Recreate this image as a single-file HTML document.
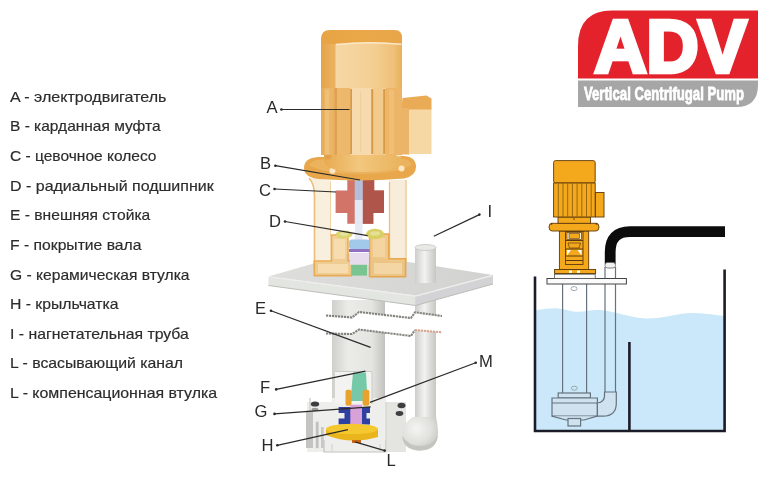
<!DOCTYPE html>
<html><head><meta charset="utf-8">
<style>
html,body{margin:0;padding:0;background:#fff;width:770px;height:500px;overflow:hidden}
svg{display:block;position:absolute;left:0;top:0;will-change:transform}
.t{font-family:"Liberation Sans",sans-serif;font-size:14.8px;fill:#2c2c2c;stroke:#2c2c2c;stroke-width:0.18px}
.lb{font-family:"Liberation Sans",sans-serif;font-size:16.6px;fill:#2a2a2a}
</style></head><body>
<svg width="770" height="500" viewBox="0 0 770 500">
<!-- legend -->
<g class="t">
<text x="10" y="102" textLength="156.5" lengthAdjust="spacingAndGlyphs">A - электродвигатель</text>
<text x="10" y="131" textLength="150.5" lengthAdjust="spacingAndGlyphs">B - карданная муфта</text>
<text x="10" y="161" textLength="146.5" lengthAdjust="spacingAndGlyphs">C - цевочное колесо</text>
<text x="10" y="190.6" textLength="203.7" lengthAdjust="spacingAndGlyphs">D - радиальный подшипник</text>
<text x="10" y="220.3" textLength="140.3" lengthAdjust="spacingAndGlyphs">E - внешняя стойка</text>
<text x="10" y="250" textLength="131.5" lengthAdjust="spacingAndGlyphs">F - покрытие вала</text>
<text x="10" y="279.7" textLength="179.5" lengthAdjust="spacingAndGlyphs">G - керамическая втулка</text>
<text x="10" y="309.3" textLength="108.5" lengthAdjust="spacingAndGlyphs">H - крыльчатка</text>
<text x="10" y="338.9" textLength="178.8" lengthAdjust="spacingAndGlyphs">I - нагнетательная труба</text>
<text x="10" y="368.2" textLength="173.0" lengthAdjust="spacingAndGlyphs">L - всасывающий канал</text>
<text x="10" y="397.7" textLength="207.1" lengthAdjust="spacingAndGlyphs">L - компенсационная втулка</text>
</g>

<!-- logo -->
<g id="logo">
<path d="M578,46 Q578,10.5 612,10.5 L758,10.5 L758,78.5 L578,78.5 Z" fill="#E3222B"/>
<path d="M578,80.5 L758,80.5 L758,85 Q758,107 736,107 L578,107 Z" fill="#A6A6A6"/>
<text x="594.5" y="71.5" font-family="Liberation Sans" font-weight="bold" font-size="75" fill="#fff" stroke="#fff" stroke-width="4.5" stroke-linejoin="miter" textLength="152" lengthAdjust="spacingAndGlyphs">ADV</text>
<text x="584" y="99.8" font-family="Liberation Sans" font-weight="bold" font-size="18.8" fill="#fff" stroke="#fff" stroke-width="0.8" textLength="160" lengthAdjust="spacingAndGlyphs">Vertical Centrifugal Pump</text>
</g>

<!-- main pump -->
<g id="pump" filter="url(#soft)">
<defs>
<filter id="soft" x="-5%" y="-5%" width="110%" height="110%"><feGaussianBlur stdDeviation="0.35"/></filter>
<linearGradient id="col" x1="0" x2="1" y1="0" y2="0">
<stop offset="0" stop-color="#cfcfcb"/><stop offset="0.3" stop-color="#ebebe8"/><stop offset="0.75" stop-color="#e4e4e0"/><stop offset="1" stop-color="#c2c2be"/>
</linearGradient>
<linearGradient id="pipe" x1="0" x2="1" y1="0" y2="0">
<stop offset="0" stop-color="#cdcdc9"/><stop offset="0.45" stop-color="#f2f2f0"/><stop offset="1" stop-color="#c6c6c2"/>
</linearGradient>
<radialGradient id="elb" cx="0.4" cy="0.35" r="0.7">
<stop offset="0" stop-color="#f4f4f2"/><stop offset="0.6" stop-color="#e0e0dc"/><stop offset="1" stop-color="#c4c4c0"/>
</radialGradient>
<linearGradient id="plateTop" x1="0" x2="1" y1="0" y2="0">
<stop offset="0" stop-color="#dededc"/><stop offset="1" stop-color="#d2d2d0"/>
</linearGradient>
<linearGradient id="capFront" x1="0" x2="1" y1="0" y2="0">
<stop offset="0" stop-color="#f6d8a6"/><stop offset="0.55" stop-color="#f4cf94"/><stop offset="0.88" stop-color="#efc078"/><stop offset="1" stop-color="#e9b058"/>
</linearGradient>
<linearGradient id="capSide" x1="0" x2="1" y1="0" y2="0">
<stop offset="0" stop-color="#e4a448"/><stop offset="1" stop-color="#ecb466"/>
</linearGradient>
<linearGradient id="finL" x1="0" x2="1" y1="0" y2="0">
<stop offset="0" stop-color="#e6aa58"/><stop offset="0.5" stop-color="#edb86c"/><stop offset="1" stop-color="#e9b062"/>
</linearGradient>
<linearGradient id="neck" x1="0" x2="1" y1="0" y2="0">
<stop offset="0" stop-color="#e8aa50"/><stop offset="0.45" stop-color="#f2c77e"/><stop offset="1" stop-color="#eab45e"/>
</linearGradient>
<linearGradient id="capTop" x1="0" x2="1" y1="0" y2="0">
<stop offset="0" stop-color="#e6a444"/><stop offset="0.5" stop-color="#eaa848"/><stop offset="1" stop-color="#e8a64a"/>
</linearGradient>
</defs>

<!-- discharge pipe below plate -->
<rect x="415" y="280" width="21" height="145" fill="url(#pipe)"/>

<!-- column lower -->
<rect x="332" y="300" width="53" height="102" fill="url(#col)"/>

<!-- break band -->
<path d="M326,315.5 L352,317.5 L359,312 L411,318 L415,312.3 L442,316 L442,332.3 L415,330 L411,336 L359,329.5 L352,334 L326,333.5 Z" fill="#fff"/>
<g fill="none" stroke-width="2.1" stroke-dasharray="2.2 0.8">
<path d="M326,315.5 L352,317.5 L359,312 L411,318 L415,312.3 L442,316" stroke="#84847f"/>
<path d="M326,333.5 L352,334 L359,329.5 L411,336 L415,330" stroke="#84847f"/>
<path d="M415,330 L442,332.3" stroke="#d9a58e"/>
</g>
<!-- casing -->
<path d="M307,402 L332,402 L332,398 L386,398 L386,402 L406,402 L406,452 L307,452 Z" fill="#eeeeec"/>
<path d="M306,411 L313,411 L313,448 L306,448 Z" fill="#c4c4c0"/>
<path d="M306,411 L313,411" stroke="#d8d8d4" stroke-width="1"/>
<rect x="315.8" y="421.7" width="2.8" height="26.5" fill="#c0c0bc"/>
<rect x="321" y="427" width="2.7" height="21" fill="#c8c8c4"/>
<path d="M310,398 L310,411" stroke="#d0d0cc" stroke-width="1.5"/>
<path d="M324,440 L324,452 L386,452 L386,440" fill="none" stroke="#c4c4c0" stroke-width="1.2"/>
<path d="M332,444 L332,452 M380,444 L380,452" stroke="#cfcfcb" stroke-width="1"/>
<path d="M386,402 L406,402 L406,452 L386,452 Z" fill="#e4e4e0"/>
<path d="M386,402 L386,452" stroke="#d0d0cc" stroke-width="1"/>
<ellipse cx="315" cy="404" rx="4.2" ry="2.6" fill="#3e3e42"/>
<ellipse cx="315" cy="409.5" rx="3.5" ry="1.8" fill="#9a9a98"/>
<ellipse cx="401.5" cy="405.5" rx="4" ry="2.8" fill="#3e3e42"/>
<ellipse cx="399.5" cy="413.5" rx="3.8" ry="2.4" fill="#3e3e42"/>
<!-- cutaway window -->
<rect x="335" y="371.5" width="37" height="32" fill="#f3f3f1"/>
<path d="M335,371.5 L372,371.5 L372,404" fill="none" stroke="#c9c9c5" stroke-width="1"/>
<path d="M353,372.5 L366,372.5 L367.5,401 L350.5,401 Z" fill="#76c9a8"/>
<rect x="345.5" y="389.7" width="6" height="16" rx="2" fill="#eaa22e"/>
<rect x="362.6" y="389.7" width="6.7" height="16" rx="2" fill="#eaa22e"/>
<path d="M338.6,407 L351,407 L351,424.5 L338.6,424.5 L338.6,418.5 L344.5,418.5 L344.5,413 L338.6,413 Z" fill="#2f3fa0"/>
<path d="M362,407 L370,407 L370,413 L366.5,413 L366.5,418.5 L370,418.5 L370,424.5 L362,424.5 Z" fill="#2f3fa0"/>
<rect x="350.3" y="404.8" width="11.7" height="20.5" fill="#d8a2d8"/>
<!-- impeller -->
<path d="M326,429 L326,435 Q350,445 378,437 L378,429 Z" fill="#e9b41a"/>
<ellipse cx="352" cy="429" rx="26" ry="5.2" fill="#f4c82e"/>
<path d="M352,440 L361,440 L361,443 L352,443 Z" fill="#c86818"/>
<!-- elbow -->
<path d="M413,417 L436,417 Q438,424 438,432 Q438,450 420,450.5 Q402,450 402,434 Q402,424 413,417 Z" fill="url(#elb)"/>
<path d="M402,436 Q404,450 420,450.5 Q436,450 438,436 Q432,446 420,446 Q408,446 402,436 Z" fill="#c4c4c0"/>
<!-- base plate -->
<path d="M268.5,276.4 L350,253 L493,275 L415.5,295.6 Z" fill="url(#plateTop)"/>
<path d="M268.5,276.4 L415.5,295.6 L415.5,305.5 L268.5,285.5 Z" fill="#e3e5e1"/>
<path d="M415.5,295.6 L493,275 L493,284 L415.5,305.5 Z" fill="#d3d3d5"/>
<path d="M268.5,285.5 L415.5,305.5 L493,284" fill="none" stroke="#bcbcb8" stroke-width="1"/>
<path d="M269.5,277 L415.5,296.2 L492,275.6" fill="none" stroke="#efefed" stroke-width="1.2"/>
<!-- discharge pipe above plate -->
<rect x="415" y="247" width="21" height="36" fill="url(#pipe)"/>
<ellipse cx="425.5" cy="247.5" rx="10.5" ry="3" fill="#e8e8e6" stroke="#c4c4c0" stroke-width="0.8"/>

<!-- lantern posts -->
<path d="M309,178 Q314,184 314,196 L314,262 L331,262 L331,180 Z" fill="#f9efdf"/>
<path d="M309,178 Q314.5,184 314.5,196 L314.5,270" fill="none" stroke="#ebbd78" stroke-width="1.6"/>
<path d="M330.5,182 L330.5,236" stroke="#f0d2a4" stroke-width="1"/>
<path d="M389,180 L407,180 L407,262 L389,262 Z" fill="#f8ecda"/>
<path d="M389.5,182 L389.5,258" stroke="#ebc084" stroke-width="1.3"/>
<path d="M406,180 L406,262" stroke="#f0cc98" stroke-width="1.3"/>
<!-- brackets -->
<path d="M331.4,235 L348,235 L348,261 L351.6,261 L351.6,275.6 L314.3,275.6 L314.3,261 L331.4,261 Z" fill="#f2cb8a" stroke="#e9a646" stroke-width="1.6" stroke-linejoin="round" opacity="0.9"/>
<rect x="334" y="239" width="11" height="20" fill="#f6dcae"/>
<rect x="318" y="264" width="30" height="9" fill="#f6dcae"/>
<path d="M369.6,234 L388.8,234 L388.8,258.8 L405.6,258.8 L405.6,276.8 L369.6,276.8 Z" fill="#efc47e" stroke="#e6a040" stroke-width="1.6" stroke-linejoin="round" opacity="0.9"/>
<rect x="373" y="238" width="12" height="19" fill="#f4d4a0"/>
<rect x="374" y="263" width="28" height="11" fill="#f4d6a4"/>
<!-- shaft internals -->
<rect x="355" y="180" width="7.5" height="62" fill="#e6eaf2"/>
<ellipse cx="344" cy="234.5" rx="8.5" ry="4" fill="#dcd46e"/><ellipse cx="344" cy="234" rx="4.5" ry="1.8" fill="#e8e4a0"/>
<ellipse cx="375" cy="234" rx="9" ry="5.2" fill="#d8d062"/><ellipse cx="375" cy="233.5" rx="5" ry="2.2" fill="#e6e094"/>
<rect x="349" y="239.6" width="20.6" height="9.6" rx="3" fill="#a2c8ea"/>
<rect x="349" y="249" width="20.6" height="3" fill="#8e72c0"/>
<rect x="350" y="252.8" width="19" height="12" fill="#e6dcee"/>
<rect x="351.6" y="264.8" width="15.4" height="10.8" fill="#78c592"/>
<!-- coupling -->
<path d="M347.3,179.7 L374.2,179.7 L374.2,190.5 L384,190.5 L384,213 L373.3,213 L373.3,223.7 L347.3,223.7 L347.3,213 L335.6,213 L335.6,190.5 L347.3,190.5 Z" fill="#d27468"/>
<path d="M363,179.7 L374.2,179.7 L374.2,190.5 L384,190.5 L384,213 L373.3,213 L373.3,223.7 L363,223.7 Z" fill="#b0544a"/>
<rect x="354.7" y="176" width="8" height="24" fill="#b4bfdc"/>
<rect x="354.7" y="200" width="8" height="24" fill="#e4e8f2"/>

<!-- flange -->
<path d="M304,168 Q304,158 318,157 L404,156 Q416,157 416,167 Q416,176 404,178.5 Q360,182 318,179 Q304,177 304,168 Z" fill="#e8a74c"/>
<path d="M309,165 Q312,160 322,159.5 L402,158.5 Q411,160 412,165 Q395,174 360,174 Q325,174 309,165 Z" fill="#ecb35e"/>
<circle cx="332.5" cy="170.8" r="3" fill="#fbe6c0"/>
<circle cx="401.5" cy="168.4" r="3" fill="#fbe6c0"/>
<!-- motor neck -->
<path d="M324,150 L401,150 L401,162 Q398,172 362,172 Q327,172 324,162 Z" fill="url(#neck)"/>
<circle cx="328" cy="156" r="3.5" fill="#e2a24a"/>
<circle cx="399" cy="153" r="3.5" fill="#fbe8c4"/>
<!-- motor body fins -->
<rect x="321" y="88" width="81" height="67" fill="#f6d8a8"/>
<rect x="321" y="88" width="14" height="67" fill="url(#finL)"/>
<rect x="325" y="90" width="4" height="64" fill="#f0c47c" opacity="0.7"/>
<rect x="334.5" y="88" width="2.5" height="67" fill="#dfa252"/>
<rect x="337" y="88" width="13.2" height="67" fill="#edb76c"/>
<rect x="350.2" y="89" width="1.8" height="65" fill="#d99a46"/>
<rect x="352" y="88" width="19.2" height="67" fill="#f7dbae"/>
<rect x="360" y="92" width="1.2" height="60" fill="#f0d09a"/>
<rect x="371.2" y="89" width="2.3" height="65" fill="#d99a46"/>
<rect x="373.5" y="88" width="9.7" height="67" fill="#f2cb8c"/>
<rect x="383.2" y="89" width="2.3" height="65" fill="#d99a46"/>
<rect x="385.5" y="88" width="16.5" height="67" fill="#edb567"/>
<rect x="389" y="90" width="5" height="64" fill="#f0c078" opacity="0.8"/>
<!-- terminal box -->
<path d="M401.5,110 L402.4,98 L426.4,95.5 L431.5,98.5 L431.5,110 Z" fill="#e9ab54"/>
<rect x="401.5" y="108" width="8" height="46.5" fill="#ebb468"/>
<rect x="409.5" y="109.5" width="22" height="44.5" fill="#f6d8a4"/>

<!-- motor cap -->
<path d="M321,39 Q321,30 330,30 L395,30 Q402,30 402,38 L402,46 L321,46 Z" fill="url(#capTop)"/>
<rect x="321" y="44" width="15" height="44" fill="url(#capSide)"/>
<path d="M335.5,44.5 Q369,40.5 402,44 L402,88 L335.5,88 Z" fill="url(#capFront)"/>
<path d="M336,44.5 Q369,41 401.5,44.3" fill="none" stroke="#fbe8c8" stroke-width="1.6"/>
<!-- labels -->
<g class="lb">
<text x="266.5" y="113.4">A</text>
<text x="260" y="168.7">B</text>
<text x="259" y="195.7">C</text>
<text x="269" y="226.6">D</text>
<text x="487.5" y="217">I</text>
<text x="255" y="314.2">E</text>
<text x="479" y="366.9">M</text>
<text x="260" y="392.9">F</text>
<text x="254.5" y="417.4">G</text>
<text x="261.5" y="450.6">H</text>
<text x="386.5" y="466">L</text>
</g>
<g stroke="#2a2a2a" stroke-width="1.2" fill="none">
<path d="M281.4,109.5 L349.5,109.5"/>
<path d="M275.4,165.7 L360,180"/>
<path d="M274.5,189 L336,192"/>
<path d="M285,221.5 L367.6,235.6"/>
<path d="M479.4,214.6 L433.8,236.2"/>
<path d="M271,310.7 L370.6,347.4"/>
<path d="M475.7,362.8 L370,402.4"/>
<path d="M276.2,389.4 L365.4,371.2"/>
<path d="M274.5,413.9 L370.6,406.9"/>
<path d="M277.3,445.3 L347.9,429.6"/>
<path d="M384.6,450.6 L354.9,441.9"/>
</g>
<g fill="#2a2a2a">
<circle cx="281.4" cy="109.5" r="1.3"/><circle cx="275.4" cy="165.7" r="1.3"/><circle cx="274.5" cy="189" r="1.3"/><circle cx="285" cy="221.5" r="1.3"/>
<circle cx="479.4" cy="214.6" r="1.3"/><circle cx="271" cy="310.7" r="1.3"/><circle cx="475.7" cy="362.8" r="1.3"/><circle cx="276.2" cy="389.4" r="1.3"/>
<circle cx="274.5" cy="413.9" r="1.3"/><circle cx="277.3" cy="445.3" r="1.3"/><circle cx="384.6" cy="450.6" r="1.3"/>
</g>
</g>

<!-- tank -->
<g id="tank">
<!-- water -->
<path d="M535,310.5 C545,309 552,308 558,308.5 C566,309 571,312 578,311.8 C586,311.5 592,309.5 600,310 C615,311 630,318 646,318.5 C662,319 680,312.5 694,313 C707,313.5 716,315 724,316 L724,431 L535,431 Z" fill="#cae8f9"/>
<!-- tank walls -->
<path d="M535,276.4 L535,431 L724.6,431 L724.6,269.5" fill="none" stroke="#1c1c28" stroke-width="2.6"/>
<path d="M629.4,342 L629.4,431" stroke="#1c1c28" stroke-width="2.6"/>
<!-- black pipe -->
<path d="M610.2,264 L610.2,252 Q610.2,231.7 630,231.7 L725,231.7" fill="none" stroke="#0c0c0c" stroke-width="10.8"/>
<g fill="none" stroke="#66727e" stroke-width="1.2">
<!-- discharge pipe -->
<path d="M605,267 L605,400 M615.5,267 L615.5,400"/>
<!-- column -->
<path d="M562.6,284 L562.6,393 M586.6,284 L586.6,393"/>
</g>
<rect x="605" y="262.5" width="10.5" height="5.5" rx="2.5" fill="#f0f0f0" stroke="#666" stroke-width="0.8"/>
<!-- casing -->
<g stroke="#66727e" stroke-width="1.2" fill="#cfe2ef">
<rect x="558.2" y="393" width="32.2" height="5"/>
<path d="M552,398 L597.4,398 L597.4,416.2 L552,416.2 Z"/>
<path d="M552,403 L597.4,403" fill="none"/>
<path d="M552,416.2 L566,420 L584,420 L597,416.2"/>
<rect x="568" y="418.5" width="12.6" height="7.5"/>
<path d="M597.4,403 Q604.5,402 604.5,396 L604.5,392 L616.3,392 L616.3,403 Q616.3,416.2 603,416.2 L597.4,416.2 Z"/>
</g>
<path d="M571.3,388.2 A3,2 0 1 0 577.3,388.2 A3,2 0 1 0 571.3,388.2 Z" fill="none" stroke="#8a96a0" stroke-width="0.8"/>
<path d="M571,288.6 A3,2 0 1 0 577,288.6 A3,2 0 1 0 571,288.6 Z" fill="none" stroke="#8a96a0" stroke-width="0.8"/>
<!-- base plate -->
<rect x="547" y="278.5" width="79.4" height="5.5" fill="#fbfbfb" stroke="#444" stroke-width="1"/>
<rect x="554.4" y="274.2" width="40.8" height="4.3" fill="#fbfbfb" stroke="#555" stroke-width="0.8"/>
<!-- motor -->
<g stroke="#5e3a0c" stroke-width="0.9" fill="#f4a81c">
<rect x="554.6" y="269.5" width="41" height="4"/>
<rect x="559.4" y="231" width="29.3" height="38.5"/>
<rect x="565.5" y="231.5" width="17.5" height="33"/>
<rect x="567" y="232.5" width="14.5" height="7" fill="#fff6e0" stroke-width="0.7"/>
<rect x="569" y="233.5" width="10.5" height="5" fill="#f4a81c" stroke-width="0.6"/>
<path d="M565.5,240.5 L583,240.5 M565.5,249 L583,249 M565.5,256 L583,256 M565.5,260.5 L583,260.5" stroke-width="1"/>
<path d="M568,243 L580.5,243 L579,248 L569.5,248 Z" stroke-width="0.7"/>
<path d="M549,227 Q549,223.3 552,223.3 L596,223.3 Q599,223.3 599,227 Q599,231 596,231 L552,231 Q549,231 549,227 Z"/>
<rect x="558" y="217" width="32.5" height="6.3"/>
<rect x="553.6" y="160.6" width="41.6" height="22.4" rx="2"/>
<rect x="553.6" y="183" width="41.6" height="34"/>
<rect x="595.4" y="192.5" width="8.6" height="24.5"/>
<path d="M558.3,183.5 V216.5 M563,183.5 V216.5 M567.7,183.5 V216.5 M572.4,183.5 V216.5 M577.1,183.5 V216.5 M581.8,183.5 V216.5 M586.5,183.5 V216.5 M591.2,183.5 V216.5" stroke-width="0.6"/>
</g>
<g fill="#fff"><path d="M567,250 L571,250 L567,255.5 Z"/><path d="M581.5,250 L577.5,250 L581.5,255.5 Z"/><rect x="569" y="270.5" width="3" height="2.5"/><rect x="577" y="270.5" width="3" height="2.5"/></g>
<g fill="#5e3a0c"><circle cx="551.5" cy="223.8" r="1"/><circle cx="596.5" cy="223.8" r="1"/><circle cx="574" cy="219" r="0.8"/></g>
</g>
</svg>
</body></html>
